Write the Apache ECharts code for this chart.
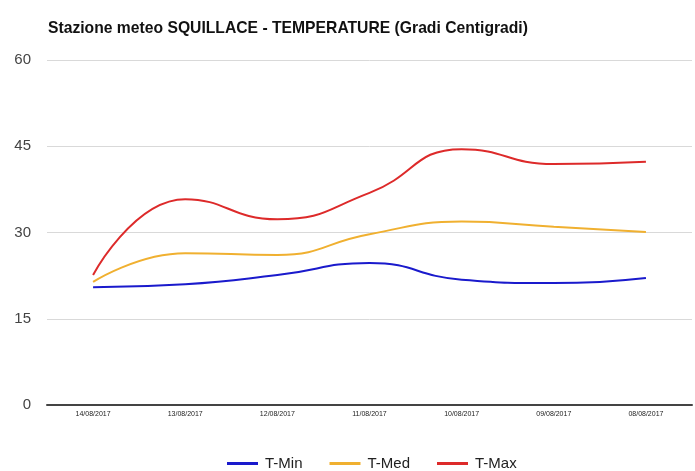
<!DOCTYPE html>
<html>
<head>
<meta charset="utf-8">
<script src="https://cdn.jsdelivr.net/npm/echarts@6/dist/echarts.min.js"></script>
<style>
html,body{margin:0;padding:0;background:#fff;}
#main{width:695px;height:471px;}
</style>
</head>
<body>
<div id="main"></div>
<script>
var dates = ["14/08/2017","13/08/2017","12/08/2017","11/08/2017","10/08/2017","09/08/2017","08/08/2017"];
var tMin = [20.5, 21.0, 22.6, 24.7, 21.8, 21.2, 22.1];
var tMed = [21.4, 26.4, 26.1, 29.7, 31.9, 31.0, 30.1];
var tMax = [22.6, 35.8, 32.3, 36.9, 44.5, 41.9, 42.3];

var option = {
    backgroundColor:"#fff",
    textStyle:{fontFamily:"Liberation Sans, Arial, sans-serif"},
    title:{
        text:"Stazione meteo SQUILLACE - TEMPERATURE (Gradi Centigradi)",
        left:43,
        top:16,
        textStyle:{fontSize:15.7,fontWeight:"bold",color:"#111"}
    },
    legend:{
        bottom:-5,
        left:222,
        itemGap:27,
        itemWidth:31,
        itemHeight:3,
        icon:"rect",
        textStyle:{fontSize:15,color:"#222",padding:[0,0,0,2]},
        data:["T-Min","T-Med","T-Max"]
    },
    grid:{
        left:47,
        right:3,
        top:60,
        bottom:66
    },
    xAxis:{
        type:"category",
        data:dates,
        boundaryGap:true,
        axisLine:{lineStyle:{color:"#444",width:2}},
        axisTick:{show:false},
        axisLabel:{fontSize:7,color:"#222",margin:6}
    },
    yAxis:{
        type:"value",
        min:0,
        max:60,
        interval:15,
        axisLine:{show:false},
        axisTick:{show:false},
        axisLabel:{fontSize:15,color:"#444",margin:16},
        splitLine:{lineStyle:{color:"#d9d9d9",width:1}}
    },
    series:[{
        name:"T-Min",
        type:"line",
        smooth:0.5,
        showSymbol:false,
        data:tMin,
        itemStyle:{color:"#1a1acc"},
        lineStyle:{color:"#1a1acc",width:2}
    },{
        name:"T-Med",
        type:"line",
        smooth:0.5,
        showSymbol:false,
        data:tMed,
        itemStyle:{color:"#f0b030"},
        lineStyle:{color:"#f0b030",width:2}
    },{
        name:"T-Max",
        type:"line",
        smooth:0.5,
        showSymbol:false,
        data:tMax,
        itemStyle:{color:"#dd2a2a"},
        lineStyle:{color:"#dd2a2a",width:2}
    }]
};

var chart = echarts.init(document.getElementById("main"));
chart.setOption(option);
</script>
</body>
</html>
